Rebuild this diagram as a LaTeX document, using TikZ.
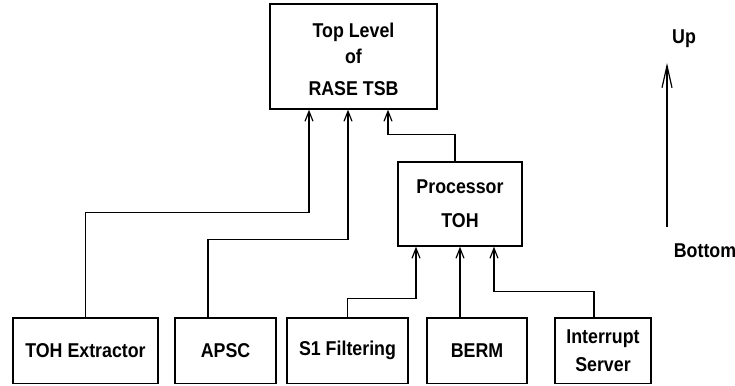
\documentclass[tikz,border=0pt]{standalone}
\usepackage{fontspec}
\newfontfamily\lab{Liberation Sans}[FakeStretch=0.89]
\usetikzlibrary{arrows.meta,calc}
\begin{document}
\begin{tikzpicture}[x=1pt,y=-1pt,
  box/.style={draw,line width=1.3pt,inner sep=0pt,align=center,
    font=\lab\bfseries\fontsize{20}{22}\selectfont},
  lbl/.style={inner sep=0pt,font=\lab\bfseries\fontsize{20}{22}\selectfont},
  conn/.style={line width=1.2pt,-{Straight Barb[length=10pt,width=8pt]}},
  bigconn/.style={line width=1.2pt,-{Straight Barb[length=22pt,width=10pt]}}]
\useasboundingbox (0,0) rectangle (735,385);
% boxes
\node[box,minimum width=167,minimum height=105] (top) at (353.5,56.5)
  {\rule{0pt}{20pt}Top Level\\[4pt]of\\[10pt]RASE TSB};
\node[box,minimum width=124,minimum height=84] (proc) at (460,204)
  {Processor\\[12pt]TOH};
\node[box,minimum width=145,minimum height=65.5] (tohx) at (85.5,350.75) {TOH Extractor};
\node[box,minimum width=101,minimum height=65.5] (apsc) at (225.5,350.75) {APSC};
\node[box,minimum width=121,minimum height=65.5] (s1) at (347.5,350.75) {S1 Filtering};
\node[box,minimum width=100,minimum height=65.5] (berm) at (477,350.75) {BERM};
\node[box,minimum width=96,minimum height=65.5] (intr) at (603,350.75) {Interrupt\\[6pt]Server};
% connectors
\draw[conn] (tohx.north) -- ++(0,-105) -| ([xshift=-44.5pt]top.south);
\draw[conn] ([xshift=-17.5pt]apsc.north) -- ++(0,-78) -| ([xshift=-5.5pt]top.south);
\draw[conn] ([xshift=-5pt]proc.north) -- ++(0,-27) -| ([xshift=34.5pt]top.south);
\draw[conn] (s1.north) -- ++(0,-19) -| ([xshift=-44pt]proc.south);
\draw[conn] ([xshift=-17pt]berm.north) -- (proc.south);
\draw[conn] ([xshift=-9pt]intr.north) -- ++(0,-26) -| ([xshift=34pt]proc.south);
% legend
\node[lbl] (up) at (684,39) {Up};
\node[lbl] (bottom) at (705,251) {Bottom};
\coordinate (ub) at (667,227);
\coordinate (ut) at (667,63);
\draw[bigconn] (ub) -- (ut);
\end{tikzpicture}
\end{document}
